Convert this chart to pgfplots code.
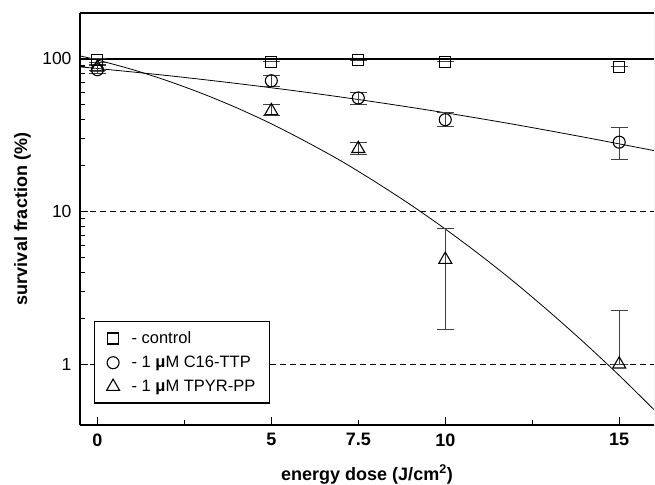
\documentclass[border=0pt]{standalone}
\usepackage{pgfplots}
\pgfplotsset{compat=1.18}
\usepackage{pgfplotstable}
\usepackage{fontspec}
\setmainfont{Liberation Sans}
\usetikzlibrary{calc}

\pgfplotstableread{
x y ep em
0 98 3 3
5 96 0 0
7.5 98 0 0
10 96 0 0
15 89 0 0
}\control
\pgfplotstableread{
x y ep em
0 85 5 5
5 72 6 6
7.5 55.5 5 5
10 40 4.4 4
15 28.5 7 6.5
}\ctt
\pgfplotstableread{
x y ep em
0 88 4 4
5 45.7 4.8 3.3
7.5 25.8 2.7 2.3
10 4.85 2.9 3.15
15 1.0 1.25 0
}\tpyr

\begin{document}
\begin{tikzpicture}
\begin{axis}[
  name=ax,
  scale only axis,
  width=574bp, height=412bp,
  ymode=log,
  xmin=-0.5, xmax=16,
  ymin=0.4, ymax=200,
  axis x line*=bottom, axis y line*=left,
  axis line style={line width=1.6pt},
  tick align=inside,
  tick style={black, line width=1.2pt},
  major tick length=8bp, minor tick length=5bp,
  xtick={0,5,10,15},
  xticklabels={0,5,10,15},
  minor xtick={2.5,12.5},
  extra x ticks={7.5},
  extra x tick labels={7.5},
  extra x tick style={major tick length=5bp, grid=none},
  ytick={1,10,100},
  yticklabels={1,10,100},
  ymajorgrids,
  major grid style={dashed, black, line width=1pt, dash pattern=on 6bp off 4bp},
  /pgf/number format/assume math mode=true,
  xticklabel style={font=\fontsize{18bp}{20bp}\selectfont\bfseries, yshift=-5bp},
  yticklabel style={font=\fontsize{17.5bp}{20bp}\selectfont, xshift=-5bp},
  xlabel={energy dose (J/cm\textsuperscript{2})},
  ylabel={survival fraction (\%)},
  xlabel style={font=\fontsize{18bp}{20bp}\selectfont\bfseries, at={(axis description cs:0.5,-0.1335)}, anchor=base},
  ylabel style={font=\fontsize{18bp}{20bp}\selectfont\bfseries, at={(axis description cs:-0.0923,0.5)}, anchor=base},
  legend style={at={(axis description cs:0.0244,0.252)}, anchor=north west,
    draw=black, line width=1.2pt, font=\fontsize{16.5bp}{18bp}\selectfont,
    inner xsep=12bp, inner ysep=8bp, row sep=7bp},
  legend cell align=left,
  error bars/error bar style={black!75, line width=1pt},
  error bars/error mark options={rotate=90, mark size=8.5bp, line width=1pt, black!75},
]
% fit curves
\addplot[black, line width=1.6pt, forget plot] coordinates {(-0.5,100) (16,100)};
\addplot[black, line width=0.8pt, smooth, forget plot] coordinates {
(-0.5,88.7) (0,86.6) (2,77.9) (4,69.1) (6,60.5) (8,52.2) (10,44.4) (12,37.2) (14,30.7) (16,25.1)};
\addplot[black, line width=0.8pt, smooth, forget plot] coordinates {
(-0.5,104.7) (0,98.4) (1,85.3) (2,72.1) (3,59.5) (4,47.9) (5,37.6) (6,28.7) (7,21.5) (8,15.6) (9,11.1) (10,7.69) (11,5.20) (12,3.43) (13,2.20) (14,1.38) (15,0.845) (16,0.504)};
% data
\addplot[only marks, mark=square, mark size=5.5bp, mark options={line width=1.1pt, fill=white, black},
  error bars/.cd, y dir=both, y explicit]
  table[x=x, y=y, y error plus=ep, y error minus=em] {\control};
\addlegendentry{\hspace*{10bp}- control}
\addplot[only marks, mark=o, mark size=6bp, mark options={line width=1.1pt, fill=white, black},
  error bars/.cd, y dir=both, y explicit]
  table[x=x, y=y, y error plus=ep, y error minus=em] {\ctt};
\addlegendentry{\hspace*{10bp}- 1 \textbf{μ}M C16-TTP}
\addplot[only marks, mark=triangle, mark size=7.5bp, mark options={line width=1.1pt, fill=white, black},
  error bars/.cd, y dir=both, y explicit]
  table[x=x, y=y, y error plus=ep, y error minus=em] {\tpyr};
\addlegendentry{\hspace*{10bp}- 1 \textbf{μ}M TPYR-PP}
\draw[black, line width=1.6pt] (rel axis cs:0,1) -- (rel axis cs:1,1);
\draw[black!45, line width=0.6pt] (rel axis cs:1,0) -- (rel axis cs:1,1);
\end{axis}
\pgfresetboundingbox
\path ($(ax.south west)+(-80bp,-60bp)$) rectangle ($(ax.north east)+(1bp,13bp)$);
\end{tikzpicture}
\end{document}
